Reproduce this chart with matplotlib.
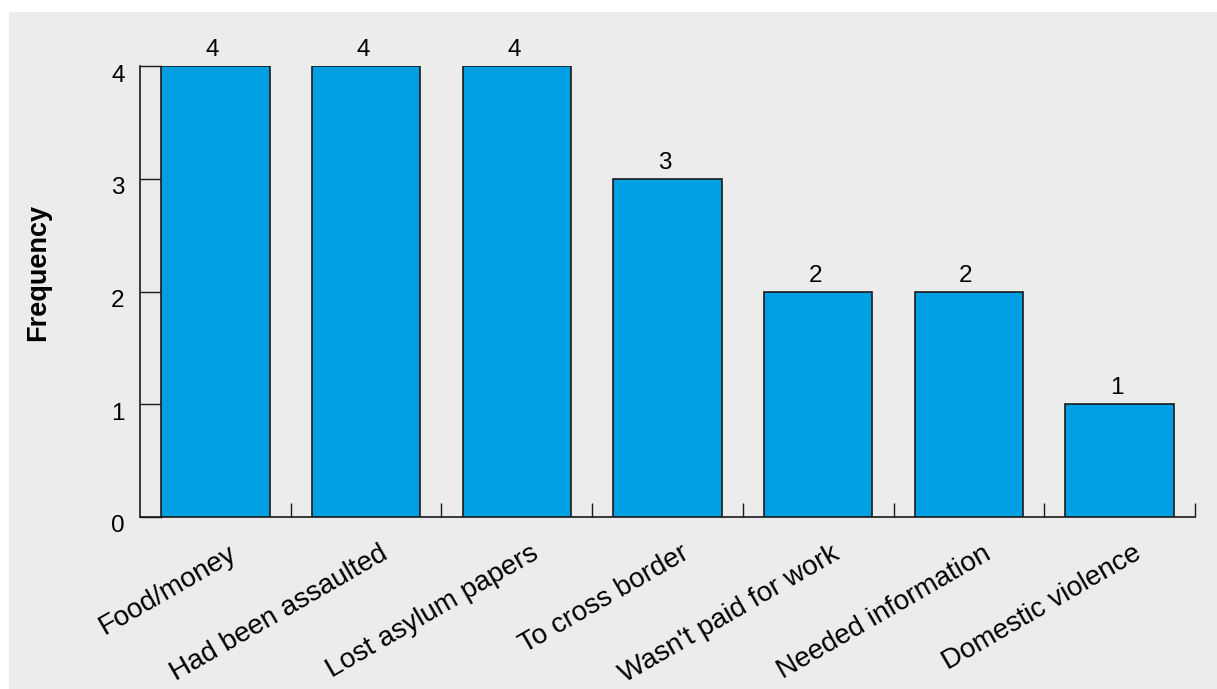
import matplotlib
matplotlib.use("Agg")
import matplotlib.pyplot as plt
from matplotlib.patches import Rectangle
import matplotlib.transforms as mtransforms
import numpy as np

categories = ["Food/money", "Had been assaulted", "Lost asylum papers", "To cross border",
              "Wasn't paid for work", "Needed information", "Domestic violence"]
values = [4, 4, 4, 3, 2, 2, 1]
yticks = [0, 1, 2, 3, 4]

plt.rcParams['font.family'] = ['Liberation Sans', 'DejaVu Sans']

W, H = 1217, 689
fig = plt.figure(figsize=(W / 100, H / 100), dpi=100)
fig.patch.set_facecolor('white')
fig.patches.append(Rectangle((9 / W, 0), 1 - 9 / W, 1 - 12 / H, transform=fig.transFigure,
                             facecolor='#ececec', edgecolor='none', zorder=-10))

ax = fig.add_axes([140 / W, 1 - 517 / H, (1195 - 140) / W, (517 - 66) / H])
ax.set_facecolor('none')
ax.set_axisbelow(True)

FS = 17.5
x = np.arange(len(categories))
bars = ax.bar(x, values, width=0.72, color='#009fe3', edgecolor='#1a1a1a', linewidth=1.2, zorder=3)
for xi, v in zip(x, values):
    ax.annotate(str(v), (xi, v), xytext=(-3, 5), textcoords='offset pixels',
                ha='center', va='bottom', fontsize=FS, color='black')

ax.set_xlim(-0.5, len(categories) - 0.5)
ax.set_ylim(0, 4)
ax.set_yticks(yticks)
ax.set_yticklabels([str(t) for t in yticks], fontsize=FS)
ax.tick_params(axis='y', direction='in', length=16, width=1, pad=11, color='#1a1a1a')
ydown = mtransforms.ScaledTranslation(0, -7 / 100, fig.dpi_scale_trans)
for lab in ax.get_yticklabels():
    lab.set_transform(lab.get_transform() + ydown)

ax.set_xticks(x)
ax.set_xticklabels(categories, rotation=30, ha='right', va='top', rotation_mode='anchor', fontsize=20)
ax.tick_params(axis='x', which='major', length=0, pad=17)
xshift = mtransforms.ScaledTranslation(13 / 100, 0, fig.dpi_scale_trans)
for lab in ax.get_xticklabels():
    lab.set_transform(lab.get_transform() + xshift)
ax.set_xticks(np.arange(len(categories)) + 0.5, minor=True)
ax.tick_params(axis='x', which='minor', direction='in', length=10, width=1, color='#1a1a1a')

for s in ['top', 'right']:
    ax.spines[s].set_visible(False)
for s in ['left', 'bottom']:
    ax.spines[s].set_color('#1a1a1a')
    ax.spines[s].set_linewidth(1.2)

ax.set_ylabel('Frequency', fontsize=19.5, fontweight='bold')
ax.yaxis.set_label_coords((38 - 140) / 1055, (517 - 272) / 451)
ax.yaxis.label.set_va('center')

fig.savefig('out.png', dpi=100)
